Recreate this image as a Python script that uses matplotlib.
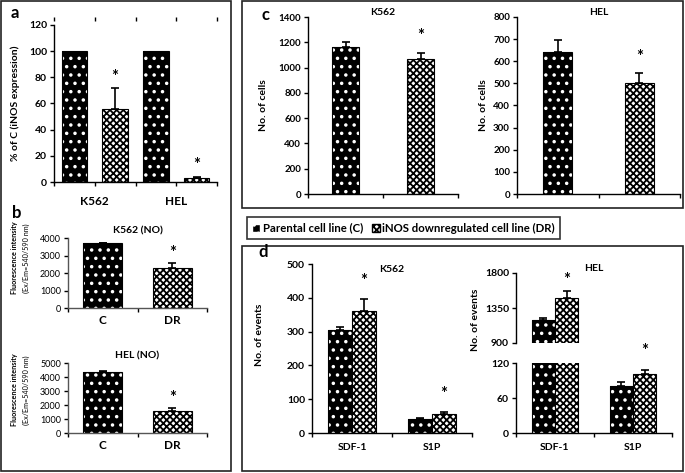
import numpy as np
import matplotlib
matplotlib.use('Agg')
import matplotlib.pyplot as plt
from matplotlib.patches import Rectangle, Patch

plt.rcParams['font.family'] = ['Lato', 'DejaVu Sans']
plt.rcParams['font.weight'] = 'bold'
plt.rcParams['axes.linewidth'] = 1.0
plt.rcParams['hatch.linewidth'] = 1.3

# ---- data ----
# a: iNOS expression (% of C)
a_groups = ['K562', 'HEL']
a_c = [100, 100]
a_dr = [56, 3]
a_dr_err = [16, 1.2]

# b: NO fluorescence
b_labels = ['C', 'DR']
b_k562 = [3700, 2300]
b_k562_err = [0, 270]
b_hel = [4350, 1550]
b_hel_err = [60, 270]

# c: number of cells
c_k562 = [1165, 1068]
c_k562_err = [37, 47]
c_hel = [640, 500]
c_hel_err = [55, 45]

# d: number of events
d_cats = ['SDF-1', 'S1P']
d_k562_c = [305, 41]
d_k562_c_err = [8, 4]
d_k562_dr = [362, 56]
d_k562_dr_err = [33, 6]
d_hel_c = [1190, 80]
d_hel_c_err = [30, 7]
d_hel_dr = [1475, 101]
d_hel_dr_err = [95, 7]

W, H = 685, 473
fig = plt.figure(figsize=(W / 100, H / 100), dpi=100)


def rect(l, t, r, b):
    return [l / W, 1 - b / H, (r - l) / W, (b - t) / H]


def c_bar(ax, x, h, w):
    ax.bar(x, h, w, color='black', edgecolor='white', hatch='..', linewidth=0)
    ax.bar(x, h, w, fill=False, edgecolor='black', linewidth=0.8)


def dr_bar(ax, x, h, w):
    ax.bar(x, h, w, facecolor='white', edgecolor='black', hatch='xxxxx', linewidth=0.8)


def err(ax, x, h, e):
    e = np.asarray(e, dtype=float)
    ax.errorbar(x, h, yerr=[np.zeros_like(e), e], fmt='none', ecolor='black',
                elinewidth=1.2, capsize=3, capthick=1.2)


def star(ax, x, y, off):
    ax.annotate('*', xy=(x, y), xytext=(0, off), textcoords='offset points',
                ha='center', va='center', fontsize=12, fontweight='bold')


def style(ax, fs=7, weight='bold'):
    for s in ['top', 'right']:
        ax.spines[s].set_visible(False)
    ax.tick_params(axis='y', direction='out', length=3, width=1, labelsize=fs, pad=2)
    ax.tick_params(axis='x', which='major', direction='out', length=3, width=1, labelbottom=False)
    ax.tick_params(axis='x', which='minor', length=0, labelsize=8, pad=5)
    for t in ax.get_yticklabels():
        t.set_fontweight(weight)


# ---- panel a ----
ax = fig.add_axes(rect(54, 25, 217, 182))
xa = np.arange(len(a_groups)) * 2
c_bar(ax, xa + 0.5, a_c, 0.62)
dr_bar(ax, xa + 1.5, a_dr, 0.62)
err(ax, xa + 1.5, a_dr, a_dr_err)
for i in range(len(a_groups)):
    star(ax, xa[i] + 1.5, a_dr[i] + a_dr_err[i], 8)
ax.set_xlim(0, 4)
ax.set_ylim(0, 120)
ax.set_yticks(range(0, 121, 20))
ax.set_xticks(range(5))
ax.set_xticklabels(['', a_groups[0], '', a_groups[1], ''])
style(ax, 7.5)
ax.spines['top'].set_visible(True)
ax.spines['top'].set_color('none')
ax.spines['top'].set_position(('outward', 3))
ax.tick_params(axis='x', which='major', top=True, length=3, labelbottom=True,
               labelsize=8.5, pad=7)
ax.set_ylabel('% of C (iNOS expression)', fontsize=7.5, fontweight='bold')
ax.yaxis.set_label_coords(-0.21, 0.5)

# ---- panel b ----
for (t, b), vals, errs, lim, title, yc in [((238, 308), b_k562, b_k562_err, 4000, 'K562 (NO)', 258),
                                           ((363, 433), b_hel, b_hel_err, 5000, 'HEL (NO)', 390)]:
    ax = fig.add_axes(rect(68, t, 207, b))
    c_bar(ax, 0.5, vals[0], 0.56)
    dr_bar(ax, 1.5, vals[1], 0.56)
    err(ax, [0.5, 1.5], vals, errs)
    star(ax, 1.5, vals[1] + errs[1], 7)
    ax.set_xlim(0, 2)
    ax.set_ylim(0, lim)
    ax.set_yticks(range(0, lim + 1, 1000))
    ax.set_xticks([0, 1, 2])
    ax.set_xticks([0.5, 1.5], minor=True)
    ax.set_xticklabels(b_labels, minor=True)
    style(ax, 6.5, 'normal')
    ax.tick_params(axis='x', which='minor', labelsize=8.5, pad=5)
    ax.spines['left'].set_color('#555555')
    ax.spines['bottom'].set_color('#555555')
    ax.set_title(title, fontsize=7.5, fontweight='bold', pad=3)
    fig.text(15 / W, 1 - yc / H, 'Fluorescence intensity', rotation=90,
             ha='center', va='center', fontsize=5.2, fontweight='bold')
    fig.text(26 / W, 1 - yc / H, '(Ex/Em=540/590 nm)', rotation=90,
             ha='center', va='center', fontsize=5.2, fontweight='normal')

# ---- panel c ----
for (l, r), vals, errs, lim, step, title, ylx, tpad in [((308, 458), c_k562, c_k562_err, 1400, 200, 'K562', 263, -6),
                                                        ((517, 680), c_hel, c_hel_err, 800, 100, 'HEL', 483, -10)]:
    ax = fig.add_axes(rect(l, 17, r, 194))
    c_bar(ax, 0.5, vals[0], 0.35)
    dr_bar(ax, 1.5, vals[1], 0.35)
    err(ax, [0.5, 1.5], vals, errs)
    star(ax, 1.5, vals[1] + errs[1], 12)
    ax.set_xlim(0, 2)
    ax.set_ylim(0, lim)
    ax.set_yticks(range(0, lim + 1, step))
    ax.set_xticks([0, 1, 2])
    style(ax, 7)
    ax.set_title(title, fontsize=7.5, fontweight='bold', pad=tpad)
    fig.text(ylx / W, 1 - 105 / H, 'No. of cells', rotation=90,
             ha='center', va='center', fontsize=7.5, fontweight='bold')

# ---- panel d ----
xd = np.arange(len(d_cats)) + 0.5
bw = 0.3

ax = fig.add_axes(rect(312, 264, 472, 433))
c_bar(ax, xd - bw / 2, d_k562_c, bw)
dr_bar(ax, xd + bw / 2, d_k562_dr, bw)
err(ax, xd - bw / 2, d_k562_c, d_k562_c_err)
err(ax, xd + bw / 2, d_k562_dr, d_k562_dr_err)
for i in range(len(d_cats)):
    star(ax, xd[i] + bw / 2, d_k562_dr[i] + d_k562_dr_err[i], 13)
ax.set_xlim(0, 2)
ax.set_ylim(0, 500)
ax.set_yticks(range(0, 501, 100))
ax.set_xticks([0, 1, 2])
ax.set_xticks(xd, minor=True)
ax.set_xticklabels(d_cats, minor=True)
style(ax, 7.5)
ax.tick_params(axis='x', which='minor', labelsize=7.5, pad=7)
ax.set_title('K562', fontsize=7.5, fontweight='bold', pad=-6)
fig.text(260 / W, 1 - 335 / H, 'No. of events', rotation=90,
         ha='center', va='center', fontsize=7.5, fontweight='bold')

# HEL broken axis
axb = fig.add_axes(rect(516, 363, 672, 433))
axt = fig.add_axes(rect(516, 273, 672, 343))
for a_ in (axb, axt):
    c_bar(a_, xd - bw / 2, d_hel_c, bw)
    dr_bar(a_, xd + bw / 2, d_hel_dr, bw)
    a_.set_xlim(0, 2)
err(axt, xd[:1] - bw / 2, d_hel_c[:1], d_hel_c_err[:1])
err(axt, xd[:1] + bw / 2, d_hel_dr[:1], d_hel_dr_err[:1])
err(axb, xd[1:] - bw / 2, d_hel_c[1:], d_hel_c_err[1:])
err(axb, xd[1:] + bw / 2, d_hel_dr[1:], d_hel_dr_err[1:])
star(axt, xd[0] + bw / 2, d_hel_dr[0] + d_hel_dr_err[0], 8)
star(axb, xd[1] + bw / 2, d_hel_dr[1] + d_hel_dr_err[1], 14)
axb.set_ylim(0, 120)
axb.set_yticks([0, 60, 120])
axb.set_xticks([0, 1, 2])
axb.set_xticks(xd, minor=True)
axb.set_xticklabels(d_cats, minor=True)
style(axb, 7.5)
axb.tick_params(axis='x', which='minor', labelsize=7.5, pad=7)
axt.set_ylim(900, 1800)
axt.set_yticks([900, 1350, 1800])
axt.set_xticks([])
style(axt, 7.5)
axt.spines['bottom'].set_visible(False)
axt.set_title('HEL', fontsize=7.5, fontweight='bold', pad=-1)
fig.text(475 / W, 1 - 320 / H, 'No. of events', rotation=90,
         ha='center', va='center', fontsize=7.5, fontweight='bold')

# ---- legend ----
handles = [Patch(facecolor='black', edgecolor='white', hatch='..'),
           Patch(facecolor='white', edgecolor='black', hatch='xxxxx')]
leg = fig.legend(handles, ['Parental cell line (C)', 'iNOS downregulated cell line (DR)'],
                 loc='center', bbox_to_anchor=(403.5 / W, 1 - 228 / H), ncol=2,
                 frameon=True, fancybox=False, edgecolor='black',
                 prop={'weight': 'bold', 'size': 8.2}, handlelength=0.7,
                 handleheight=0.7, handletextpad=0.2, columnspacing=0.8,
                 borderpad=0.5, borderaxespad=0)
leg.get_frame().set_linewidth(1.2)

# ---- panel boxes and letters ----
for l, t, r, b in [(1, 1, 231, 471), (242, 1, 683, 208), (242, 246, 683, 471)]:
    fig.add_artist(Rectangle((l / W, 1 - b / H), (r - l) / W, (b - t) / H,
                             transform=fig.transFigure, fill=False,
                             edgecolor='#222222', linewidth=1.2))
for s, x, y in [('a', 15, 13), ('b', 17, 213), ('c', 265, 15), ('d', 263, 252)]:
    fig.text(x / W, 1 - y / H, s, ha='center', va='center', fontsize=12, fontweight='bold')

fig.savefig('out.png', dpi=100)
